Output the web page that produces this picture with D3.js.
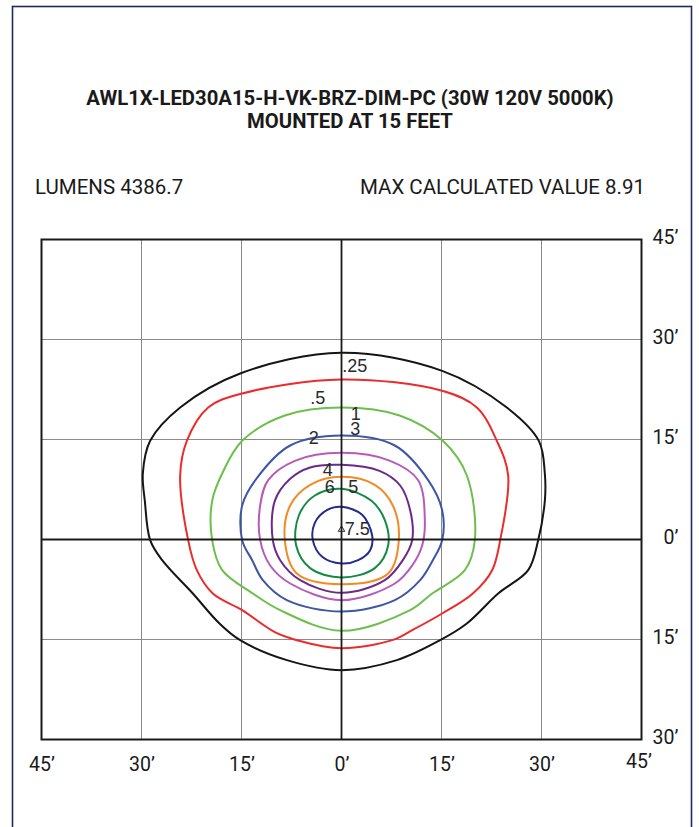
<!DOCTYPE html>
<html>
<head>
<meta charset="utf-8">
<script src="https://cdn.jsdelivr.net/npm/d3@7"></script>
<style>
  body { margin: 0; background: #fff; }
  svg { display: block; }
</style>
</head>
<body>
<svg id="chart" width="699" height="827"></svg>
<script>
// title / header text
const titleLines = ['AWL1X-LED30A15-H-VK-BRZ-DIM-PC (30W 120V 5000K)', 'MOUNTED AT 15 FEET']
const lumensText = 'LUMENS 4386.7'
const maxText = 'MAX CALCULATED VALUE 8.91'

// axis ticks in feet
const xTicks = [-45, -30, -15, 0, 15, 30, 45]
const yTicks = [-30, -15, 0, 15, 30, 45]

// iso-footcandle levels and their outlines, [x ft, y ft]
const levels = ['.25', '.5', '1', '2', '3', '4', '5', '6', '7.5']
const c025 = [[0,28.0],[15.1,25.3],[24.8,19.8],[29.6,14.8],[30.5,9.9],[30.5,5.8],[29.5,-0.1],[28.0,-4.6],[23.5,-8.1],[18.8,-12.6],[14.8,-15.1],[8.3,-18.1],[0,-19.6],[-8.2,-18.1],[-15.2,-15.1],[-18.3,-12.6],[-22.3,-8.1],[-26.9,-3.1],[-28.7,-0.1],[-29.5,5.8],[-29.8,9.9],[-28.7,14.8],[-24.2,19.8],[-15.2,24.9]]
const c05 = [[0,24.0],[15.1,22.3],[20.3,19.8],[23.3,14.8],[25.0,9.6],[23.8,-0.1],[22.6,-4.6],[19.7,-8.1],[15.1,-11.1],[10.6,-13.6],[7.6,-15.1],[0,-16.3],[-6.7,-15.1],[-10.0,-13.9],[-14.9,-10.6],[-19.3,-8.1],[-21.7,-4.6],[-23.0,-0.1],[-24.2,9.6],[-23.2,14.8],[-20.0,19.8],[-14.9,21.9]]
const c1 = [[0,19.8],[8.7,18.6],[15.2,14.8],[18.8,9.6],[20.0,-0.1],[18.5,-4.6],[13.6,-8.1],[10.3,-10.6],[0,-13.7],[-9.2,-10.6],[-13.3,-8.1],[-17.9,-4.6],[-19.4,-0.1],[-19.4,5.8],[-17.9,9.9],[-14.9,14.8],[-8.5,18.6]]
const c2 = [[0,15.6],[8.0,14.1],[13.0,8.9],[15.1,4.4],[15.1,-0.1],[13.7,-3.1],[11.8,-6.1],[8.0,-9.1],[0,-10.8],[-8.2,-9.1],[-11.8,-6.1],[-13.4,-3.1],[-14.9,-0.1],[-14.9,5.1],[-12.7,9.2],[-7.7,14.1]]
const c3 = [[0,13.0],[7.3,11.8],[11.5,8.9],[12.5,2.9],[12.1,-0.9],[10.6,-3.9],[8.0,-6.6],[0,-9.1],[-7.7,-6.6],[-10.7,-3.9],[-12.2,-0.1],[-12.2,5.1],[-11.0,8.9],[-7.0,11.8]]
const c4 = [[0,11.2],[5.7,10.3],[8.8,8.1],[10.3,4.4],[10.6,-0.1],[9.2,-3.1],[6.5,-6.1],[0,-8.0],[-6.2,-6.1],[-9.2,-3.1],[-10.3,-0.1],[-10.0,5.8],[-7.7,9.1],[-4.7,10.8]]
const c5 = [[0,9.4],[5.0,8.2],[7.7,5.1],[8.6,-0.1],[7.0,-5.1],[0,-6.7],[-6.7,-5.1],[-8.5,-0.1],[-7.7,5.1],[-4.7,8.2]]
const c6 = [[0,7.6],[4.5,5.8],[6.5,2.9],[7.0,-0.9],[5.0,-4.3],[0,-5.7],[-4.7,-4.3],[-6.8,-0.9],[-6.4,3.6],[-4.0,6.6]]
const c75 = [[0,4.9],[3.1,3.7],[4.6,0.6],[4.3,-1.6],[2.5,-3.1],[0,-3.6],[-2.9,-2.6],[-4.3,-0.1],[-4.0,2.5],[-2.2,4.4]]
const contours = [c025, c05, c1, c2, c3, c4, c5, c6, c75]

// where each level number is written, [x ft, y ft] of its baseline start
const labelSpots = [[0.1,25.2],[-4.7,20.4],[1.4,18.0],[-4.9,14.4],[1.3,15.7],[-2.8,9.5],[1.0,7.0],[-2.5,7.0],[0.5,0.75]]
const maxPoint = [0, 1.5]

const colors = ['#151515', '#ec2b2b', '#6dbf4b', '#3d56a6', '#b65bb7', '#6c2a88', '#f38a22', '#138b45', '#262a8e']

const svg = d3.select('#chart')

// page frame
svg.append('rect')
  .attr('x', 12.5).attr('y', 6.5)
  .attr('width', 679).attr('height', 840)
  .attr('fill', 'none')
  .attr('stroke', '#1d2b5e')
  .attr('stroke-width', 1.6)

const x = d3.scaleLinear().domain([-45, 45]).range([41.5, 641.5])
const y = d3.scaleLinear().domain([-30, 45]).range([739.5, 239.5])

// header
svg.selectAll('.title')
  .data(titleLines)
  .join('text')
  .attr('class', 'title')
  .attr('x', 350)
  .attr('y', (d, i) => 105 + i * 23)
  .attr('text-anchor', 'middle')
  .attr('font-family', 'Roboto, sans-serif')
  .attr('font-weight', 'bold')
  .attr('font-size', 20.3)
  .attr('fill', '#1a1a1a')
  .text(d => d)

svg.append('text')
  .attr('x', 35).attr('y', 193.5)
  .attr('font-family', 'Roboto, sans-serif')
  .attr('font-size', 20.5)
  .attr('fill', '#1a1a1a')
  .text(lumensText)

svg.append('text')
  .attr('x', 645).attr('y', 193.5)
  .attr('text-anchor', 'end')
  .attr('font-family', 'Roboto, sans-serif')
  .attr('font-size', 20.5)
  .attr('fill', '#1a1a1a')
  .text(maxText)

// grid
const grid = svg.append('g')
grid.selectAll('.vg')
  .data(xTicks.filter(d => d !== 0 && Math.abs(d) !== 45))
  .join('line')
  .attr('x1', d => x(d)).attr('x2', d => x(d))
  .attr('y1', y(45)).attr('y2', y(-30))
  .attr('stroke', '#8a8a8a').attr('stroke-width', 1)
grid.selectAll('.hg')
  .data(yTicks.filter(d => d !== 0 && d !== 45 && d !== -30))
  .join('line')
  .attr('x1', x(-45)).attr('x2', x(45))
  .attr('y1', d => y(d)).attr('y2', d => y(d))
  .attr('stroke', '#8a8a8a').attr('stroke-width', 1)

// contours
const line = d3.line()
  .x(d => x(d[0]))
  .y(d => y(d[1]))
  .curve(d3.curveCatmullRomClosed.alpha(0.5))

svg.append('g')
  .selectAll('path')
  .data(contours)
  .join('path')
  .attr('d', line)
  .attr('fill', 'none')
  .attr('stroke', (d, i) => colors[i])
  .attr('stroke-width', 2)

// center axes and frame
svg.append('line')
  .attr('x1', x(0)).attr('x2', x(0))
  .attr('y1', y(45)).attr('y2', y(-30))
  .attr('stroke', '#1a1a1a').attr('stroke-width', 1.8)
svg.append('line')
  .attr('x1', x(-45)).attr('x2', x(45))
  .attr('y1', y(0)).attr('y2', y(0))
  .attr('stroke', '#1a1a1a').attr('stroke-width', 1.8)
svg.append('rect')
  .attr('x', x(-45)).attr('y', y(45))
  .attr('width', x(45) - x(-45)).attr('height', y(-30) - y(45))
  .attr('fill', 'none')
  .attr('stroke', '#1a1a1a').attr('stroke-width', 2)

// level labels
svg.append('g')
  .selectAll('text')
  .data(levels)
  .join('text')
  .attr('x', (d, i) => x(labelSpots[i][0]))
  .attr('y', (d, i) => y(labelSpots[i][1]))
  .attr('font-family', 'Liberation Sans, Arial, sans-serif')
  .attr('font-size', 18)
  .attr('fill', '#2a2a2a')
  .text(d => d)

svg.append('path')
  .attr('d', d3.symbol(d3.symbolTriangle, 18))
  .attr('transform', `translate(${x(maxPoint[0])},${y(maxPoint[1])})`)
  .attr('fill', 'none')
  .attr('stroke', '#2a2a2a')
  .attr('stroke-width', 1)

// axis labels
const fmt = d => Math.abs(d) + '\u2019'
const bottom = svg.append('g')
  .attr('transform', `translate(0,${y(-30)})`)
  .call(d3.axisBottom(x).tickValues(xTicks).tickSize(0).tickPadding(18).tickFormat(fmt))
bottom.select('.domain').remove()
bottom.selectAll('text')
  .attr('font-family', 'Roboto, sans-serif')
  .attr('font-size', 19.5)
  .attr('fill', '#1a1a1a')
bottom.selectAll('.tick').filter(d => d === 45)
  .select('text').attr('y', 15).attr('x', -3)

const right = svg.append('g')
  .attr('transform', `translate(${x(45)},0)`)
  .call(d3.axisRight(y).tickValues(yTicks).tickSize(0).tickPadding(11).tickFormat(fmt))
right.select('.domain').remove()
right.selectAll('text')
  .attr('font-family', 'Roboto, sans-serif')
  .attr('font-size', 19.5)
  .attr('fill', '#1a1a1a')
  .attr('dy', '0.2em')
right.selectAll('.tick').filter(d => d === 0)
  .select('text').attr('x', 22)
</script>
</body>
</html>
